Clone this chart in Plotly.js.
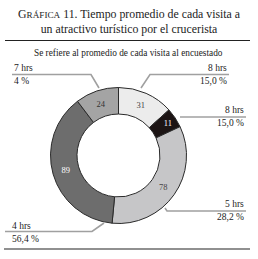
<!DOCTYPE html>
<html>
<head>
<meta charset="utf-8">
<script src="https://cdn.plot.ly/plotly-3.0.1.min.js"></script>
<style>html,body{margin:0;padding:0;background:#fff;}#chart{width:258px;height:259px;}</style>
</head>
<body>
<div id="chart"></div>
<script>
// Data
const categories = ["8 hrs (a)", "8 hrs (b)", "5 hrs", "4 hrs", "7 hrs"];
const values = [31, 11, 78, 89, 24];
const hourLabels = ["8 hrs", "8 hrs", "5 hrs", "4 hrs", "7 hrs"];
const percentLabels = ["15,0 %", "15,0 %", "28,2 %", "56,4 %", "4 %"];
const sliceColors = ["#ececec", "#1c1414", "#c6c6c8", "#6d6d6d", "#a4a4a4"];
const textColors = ["#444444", "#ffffff", "#444444", "#ffffff", "#333333"];

const W = 258, H = 259;
const px = x => x / W;
const py = y => 1 - y / H;

const serif = "Liberation Serif";

// Donut geometry (pixels)
const cx = 118.5, cy = 155.5, R = 68;

const trace = {
  type: "pie",
  labels: categories,
  values: values,
  sort: false,
  direction: "clockwise",
  rotation: 0,
  hole: 0.61,
  marker: { colors: sliceColors, line: { color: "#2a2a2a", width: 1 } },
  textinfo: "value",
  textposition: "inside",
  insidetextorientation: "horizontal",
  textfont: { family: serif, size: 8.5, color: textColors },
  domain: { x: [px(cx - R), px(cx + R)], y: [py(cy + R), py(cy - R)] },
  showlegend: false,
  hoverinfo: "none"
};

const labelPos = [
  { i: 0, x: 229, y: 68, align: "right" },
  { i: 1, x: 246, y: 110, align: "right" },
  { i: 2, x: 246, y: 204, align: "right" },
  { i: 3, x: 10, y: 226, align: "left" },
  { i: 4, x: 12, y: 68, align: "left" }
];
const leaderPaths = [
  [[229, 74.5], [150, 74.5], [141, 88]],
  [[246, 117], [180, 117]],
  [[246, 211], [167, 211], [165, 208]],
  [[5, 231.5], [92, 231.5], [104, 223]],
  [[12, 74.5], [91, 74.5], [99, 88]]
];

const annotations = [];
labelPos.forEach(p => {
  const xa = p.align === "right" ? "right" : "left";
  annotations.push({
    xref: "paper", yref: "paper", x: px(p.x), y: py(p.y), xanchor: xa, yanchor: "middle",
    text: hourLabels[p.i], showarrow: false, font: { family: serif, size: 9.5, color: "#222" }
  });
  annotations.push({
    xref: "paper", yref: "paper", x: px(p.x), y: py(p.y + 13), xanchor: xa, yanchor: "middle",
    text: percentLabels[p.i], showarrow: false, font: { family: serif, size: 9.5, color: "#222" }
  });
});

annotations.push({
  xref: "paper", yref: "paper", x: px(129), y: py(21), xanchor: "center", yanchor: "middle",
  text: "G<span style='font-size:9.2px'>RÁFICA</span> 11. Tiempo promedio de cada visita a<br>un atractivo turístico por el crucerista",
  showarrow: false, align: "center",
  font: { family: serif, size: 11.8, color: "#222" }
});
annotations.push({
  xref: "paper", yref: "paper", x: px(128), y: py(52.5), xanchor: "center", yanchor: "middle",
  text: "Se refiere al promedio de cada visita al encuestado",
  showarrow: false, font: { family: serif, size: 9.3, color: "#222" }
});

const shapes = [];
leaderPaths.forEach(pts => {
  let d = "M " + pts.map(q => px(q[0]) + " " + py(q[1])).join(" L ");
  shapes.push({ type: "path", xref: "paper", yref: "paper", path: d, line: { color: "#a0a0a0", width: 1.6 } });
});
shapes.push({ type: "line", xref: "paper", yref: "paper", x0: px(5), x1: px(250), y0: py(40.5), y1: py(40.5), line: { color: "#222", width: 1.2 } });
shapes.push({ type: "line", xref: "paper", yref: "paper", x0: px(4), x1: px(250), y0: py(249), y1: py(249), line: { color: "#222", width: 1.2 } });

const layout = {
  width: W, height: H,
  margin: { l: 0, r: 0, t: 0, b: 0 },
  paper_bgcolor: "#ffffff",
  plot_bgcolor: "#ffffff",
  showlegend: false,
  font: { family: serif },
  annotations: annotations,
  shapes: shapes
};

Plotly.newPlot("chart", [trace], layout, { displayModeBar: false, staticPlot: true });
</script>
</body>
</html>
